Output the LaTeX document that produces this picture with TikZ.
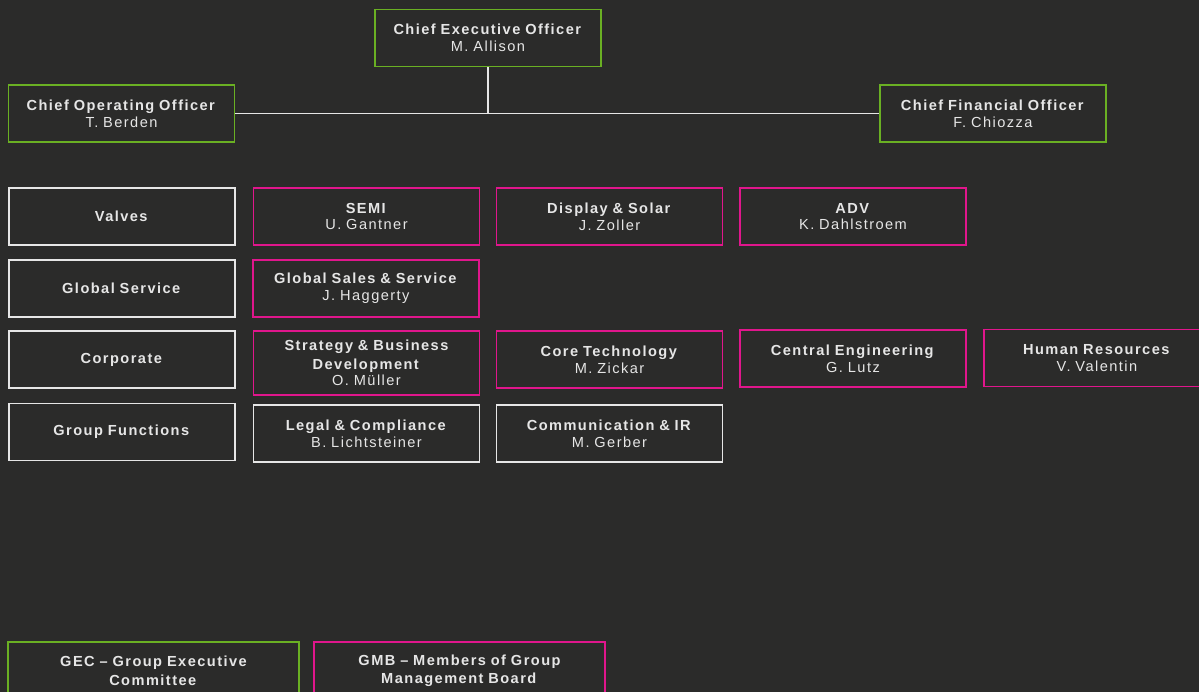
\documentclass[tikz,border=0pt]{standalone}
\usepackage{fontspec}
\setmainfont{Liberation Sans}[LetterSpace=10, WordSpace=1.5]
\definecolor{sbg}{HTML}{2B2B2A}
\definecolor{sgreen}{HTML}{6AB023}
\definecolor{smagenta}{HTML}{E0168C}
\definecolor{sline}{HTML}{E6E6E6}
\tikzset{
  every picture/.style={line width=0.8pt},
  sbox/.style={rectangle, minimum width=4.52cm, minimum height=1.14cm,
               text width=4.4cm, align=center, inner sep=0pt, text=sline,
               font=\fontsize{8.3}{9.5}\selectfont},
  sgec/.style={sbox, draw=sgreen},   % executive committee
  sgmb/.style={sbox, draw=smagenta}, % management board
  sunit/.style={sbox, draw=sline},   % plain unit
  slink/.style={draw=sline},
}
\newcommand{\who}[2]{\textbf{#1}\\#2}

\begin{document}
\begin{tikzpicture}[x=0.02cm, y=-0.02cm]
  \useasboundingbox (0,0) rectangle (1199,692);
  \clip (0,0) rectangle (1199,692);
  \fill[sbg] (0,0) rectangle (1199,692);

  % executive committee
  \node[sgec] (ceo) at (488,38)    {\who{Chief Executive Officer}{M. Allison}};
  \node[sgec] (coo) at (121.5,113.5) {\who{Chief Operating Officer}{T. Berden}};
  \node[sgec] (cfo) at (993,113.5) {\who{Chief Financial Officer}{F. Chiozza}};
  \draw[slink] (coo) -- (cfo);
  \draw[slink] (ceo) -- (ceo |- coo);

  % divisions
  \node[sunit] (valves) at (122,216.5) {\textbf{Valves}};
  \node[sgmb] (semi) at (366.5,216.5) {\who{SEMI}{U. Gantner}};
  \node[sgmb] (display) at (609.5,216.5) {\who{Display \& Solar}{J. Zoller}};
  \node[sgmb] (adv) at (853,216.5) {\who{ADV}{K. Dahlstroem}};

  \node[sunit] (gservice) at (122,288.5) {\textbf{Global Service}};
  \node[sgmb] (gsales) at (366,288.5) {\who{Global Sales \& Service}{J. Haggerty}};

  \node[sunit] (corporate) at (122,359.5) {\textbf{Corporate}};
  \node[sgmb, minimum height=1.28cm] (strategy) at (366.5,363)
        {\who{Strategy \& Business\\[1pt] Development}{O. Müller}};
  \node[sgmb] (coretech) at (609.5,359.5) {\who{Core Technology}{M. Zickar}};
  \node[sgmb] (centraleng) at (853,358.5) {\who{Central Engineering}{G. Lutz}};
  \node[sgmb] (hr) at (1097,358) {\who{Human Resources}{V. Valentin}};

  \node[sunit] (groupfn) at (122,432) {\textbf{Group Functions}};
  \node[sunit] (legal) at (366.5,433.5) {\who{Legal \& Compliance}{B. Lichtsteiner}};
  \node[sunit] (comm) at (609.5,433.5) {\who{Communication \& IR}{M. Gerber}};

  % legend
  \node[sgec, minimum width=5.82cm, minimum height=1.16cm] (leggec) at (153.5,671)
        {\textbf{GEC – Group Executive\\[1pt] Committee}};
  \node[sgmb, minimum width=5.82cm, minimum height=1.16cm] (leggmb) at (459.5,671)
        {\textbf{GMB – Members of Group\\[1pt] Management Board}};
\end{tikzpicture}
\end{document}
